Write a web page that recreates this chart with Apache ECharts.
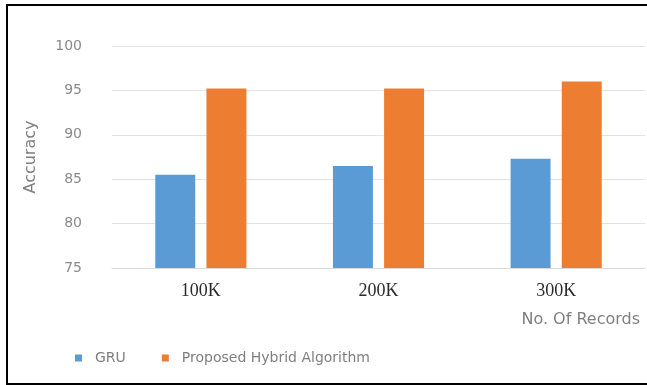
<!DOCTYPE html>
<html>
<head>
<meta charset="utf-8">
<script src="https://cdn.jsdelivr.net/npm/echarts@6/dist/echarts.min.js"></script>
<style>
html,body{margin:0;padding:0;background:#fff;}
#chart{width:647px;height:385px;}
</style>
</head>
<body>
<div id="chart"></div>
<script>
const categories = ['100K', '200K', '300K'];
const gruValues = [85.5, 86.5, 87.3];
const hybridValues = [95.2, 95.2, 96.0];
const seriesNames = ['GRU', 'Proposed Hybrid Algorithm'];
const yTicks = {min: 75, max: 100, interval: 5};

const chart = echarts.init(document.getElementById('chart'), null, {renderer: 'canvas'});
chart.setOption({
  backgroundColor: '#ffffff',
  animation: false,
  grid: {left: 112, right: 2, top: 46, bottom: 117},
  legend: {
    data: seriesNames,
    left: 70, top: 346,
    icon: 'rect', itemWidth: 7, itemHeight: 7, itemGap: 36,
    textStyle: {color: '#7f7f7f', fontSize: 14, fontFamily: 'DejaVu Sans', padding: [0, 0, 0, 8]}
  },
  xAxis: {
    type: 'category',
    data: categories,
    axisLine: {show: true, lineStyle: {color: '#d9d9d9', width: 1}},
    axisTick: {show: false},
    axisLabel: {color: '#2a2a2a', fontSize: 18, fontFamily: 'Liberation Serif', margin: 14}
  },
  yAxis: {
    type: 'value',
    min: yTicks.min, max: yTicks.max, interval: yTicks.interval,
    name: 'Accuracy',
    nameLocation: 'middle',
    nameRotate: 90,
    nameGap: 73,
    nameTextStyle: {color: '#7f7f7f', fontSize: 16, fontFamily: 'DejaVu Sans'},
    axisLine: {show: false},
    axisTick: {show: false},
    axisLabel: {color: '#8a8a8a', fontSize: 14, fontFamily: 'DejaVu Sans', margin: 30},
    splitLine: {lineStyle: {color: '#e3e3e3', width: 1}}
  },
  series: [
    {name: seriesNames[0], type: 'bar', data: gruValues, barWidth: '22.5%', barGap: '28%',
     itemStyle: {color: '#5B9BD5'}},
    {name: seriesNames[1], type: 'bar', data: hybridValues, barWidth: '22.5%', barGap: '28%',
     itemStyle: {color: '#ED7D31'}}
  ],
  graphic: [
    {type: 'text', right: 7, top: 312,
     style: {text: 'No. Of Records', fill: '#7f7f7f', fontSize: 16, fontFamily: 'DejaVu Sans'}},
    {type: 'line', silent: true, shape: {x1: 6, y1: 5, x2: 650, y2: 5},
     style: {stroke: '#000', lineWidth: 2}},
    {type: 'line', silent: true, shape: {x1: 7, y1: 4, x2: 7, y2: 385},
     style: {stroke: '#000', lineWidth: 2}},
    {type: 'line', silent: true, shape: {x1: 6, y1: 384, x2: 650, y2: 384},
     style: {stroke: '#000', lineWidth: 2}}
  ]
});
</script>
</body>
</html>
